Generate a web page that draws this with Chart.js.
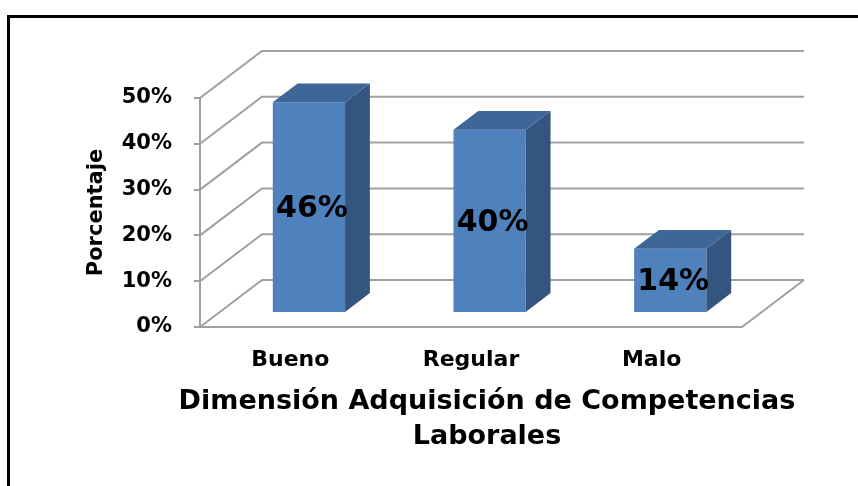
<!DOCTYPE html>
<html>
<head>
<meta charset="utf-8">
<script src="https://cdn.jsdelivr.net/npm/chart.js@4.4.0/dist/chart.umd.min.js"></script>
<style>
  html, body { margin: 0; padding: 0; background: #fff; overflow: hidden; }
  #frame { position: absolute; left: 7px; top: 15px; width: 1000px; height: 1000px; border: 3px solid #000; }
  #wrap { position: absolute; left: 0; top: 0; width: 858px; height: 486px; }
</style>
</head>
<body>
<div id="frame"></div>
<div id="wrap"><canvas id="chart" width="858" height="486"></canvas></div>
<script>
const categories = ["Bueno", "Regular", "Malo"];
const values = [46, 40, 14];
const yMax = 50;
const yStep = 10;
const xTitle = ["Dimensión Adquisición de Competencias", "Laborales"];
const yTitle = "Porcentaje";

const FONT = "'DejaVu Sans', sans-serif";
// depth of the floor (back wall offset) and where bars sit inside it
const depth = { dx: 62, dy: -47 };
const barFront = 0.3;
const barDepth = 0.4;

const box3d = {
  id: "box3d",
  beforeDatasetsDraw(chart) {
    const ctx = chart.ctx;
    const area = chart.chartArea;
    const yScale = chart.scales.y;
    ctx.save();
    ctx.strokeStyle = "#a0a0a0";
    ctx.lineWidth = 2;
    for (let v = 0; v <= yMax; v += yStep) {
      const y = yScale.getPixelForValue(v);
      ctx.beginPath();
      ctx.moveTo(area.left, y);
      ctx.lineTo(area.left + depth.dx, y + depth.dy);
      ctx.lineTo(area.right + depth.dx, y + depth.dy);
      ctx.stroke();
    }
    // floor front edge
    const y0 = yScale.getPixelForValue(0);
    ctx.beginPath();
    ctx.moveTo(area.left, y0);
    ctx.lineTo(area.right, y0);
    ctx.lineTo(area.right + depth.dx, y0 + depth.dy);
    ctx.stroke();
    ctx.restore();

    ctx.save();
    ctx.translate(depth.dx * barFront, depth.dy * barFront);
  },
  afterDatasetsDraw(chart) {
    const ctx = chart.ctx;
    ctx.restore();
    const ox = depth.dx * barFront, oy = depth.dy * barFront;
    const ddx = depth.dx * barDepth, ddy = depth.dy * barDepth;
    const meta = chart.getDatasetMeta(0);
    ctx.save();
    meta.data.forEach((bar, i) => {
      const l = bar.x - bar.width / 2 + ox;
      const r = bar.x + bar.width / 2 + ox;
      const t = bar.y + oy;
      const b = bar.base + oy;
      // side
      ctx.fillStyle = "#34557f";
      ctx.beginPath();
      ctx.moveTo(r, t);
      ctx.lineTo(r + ddx, t + ddy);
      ctx.lineTo(r + ddx, b + ddy);
      ctx.lineTo(r, b);
      ctx.closePath();
      ctx.fill();
      // top
      ctx.fillStyle = "#3e6696";
      ctx.beginPath();
      ctx.moveTo(l, t);
      ctx.lineTo(l + ddx, t + ddy);
      ctx.lineTo(r + ddx, t + ddy);
      ctx.lineTo(r, t);
      ctx.closePath();
      ctx.fill();
      // value label
      ctx.fillStyle = "#000";
      ctx.font = "bold 30px " + FONT;
      ctx.textAlign = "center";
      ctx.textBaseline = "middle";
      ctx.fillText(values[i] + "%", (l + r) / 2 + 3, (t + b) / 2 + 2);
    });
    ctx.restore();
  },
  afterDraw(chart) {
    const ctx = chart.ctx;
    ctx.save();
    ctx.fillStyle = "#000";
    ctx.font = "bold 27px " + FONT;
    ctx.textAlign = "center";
    ctx.textBaseline = "middle";
    xTitle.forEach((line, i) => {
      ctx.fillText(line, 487, 402 + i * 35);
    });
    ctx.restore();
  },
};

new Chart(document.getElementById("chart"), {
  type: "bar",
  data: {
    labels: categories,
    datasets: [
      {
        data: values,
        backgroundColor: "#4f81bd",
        borderWidth: 0,
        categoryPercentage: 1,
        barPercentage: 0.4,
        clip: false,
      },
    ],
  },
  options: {
    responsive: false,
    animation: false,
    layout: {
      padding: { left: 80, top: 98, right: 116, bottom: 0 },
    },
    plugins: {
      legend: { display: false },
      tooltip: { enabled: false },
    },
    scales: {
      x: {
        grid: { display: false },
        border: { display: false },
        ticks: {
          color: "#000",
          padding: 12,
          font: { family: FONT, size: 22, weight: "bold" },
        },
        afterFit: function (scale) {
          scale.height = 159;
        },
      },
      y: {
        min: 0,
        max: yMax,
        ticks: {
          stepSize: yStep,
          color: "#000",
          padding: 22,
          font: { family: FONT, size: 21, weight: "bold" },
          callback: function (value) {
            return value + "%";
          },
        },
        grid: {
          drawOnChartArea: false,
          color: "#a0a0a0",
          lineWidth: 2,
          tickLength: 6,
        },
        border: { display: true, color: "#a0a0a0", width: 2 },
        title: {
          display: true,
          text: yTitle,
          color: "#000",
          padding: { top: 4, bottom: 0 },
          font: { family: FONT, size: 21, weight: "bold" },
        },
        afterFit: function (scale) {
          scale.width = 120;
        },
      },
    },
  },
  plugins: [box3d],
});
</script>
</body>
</html>
